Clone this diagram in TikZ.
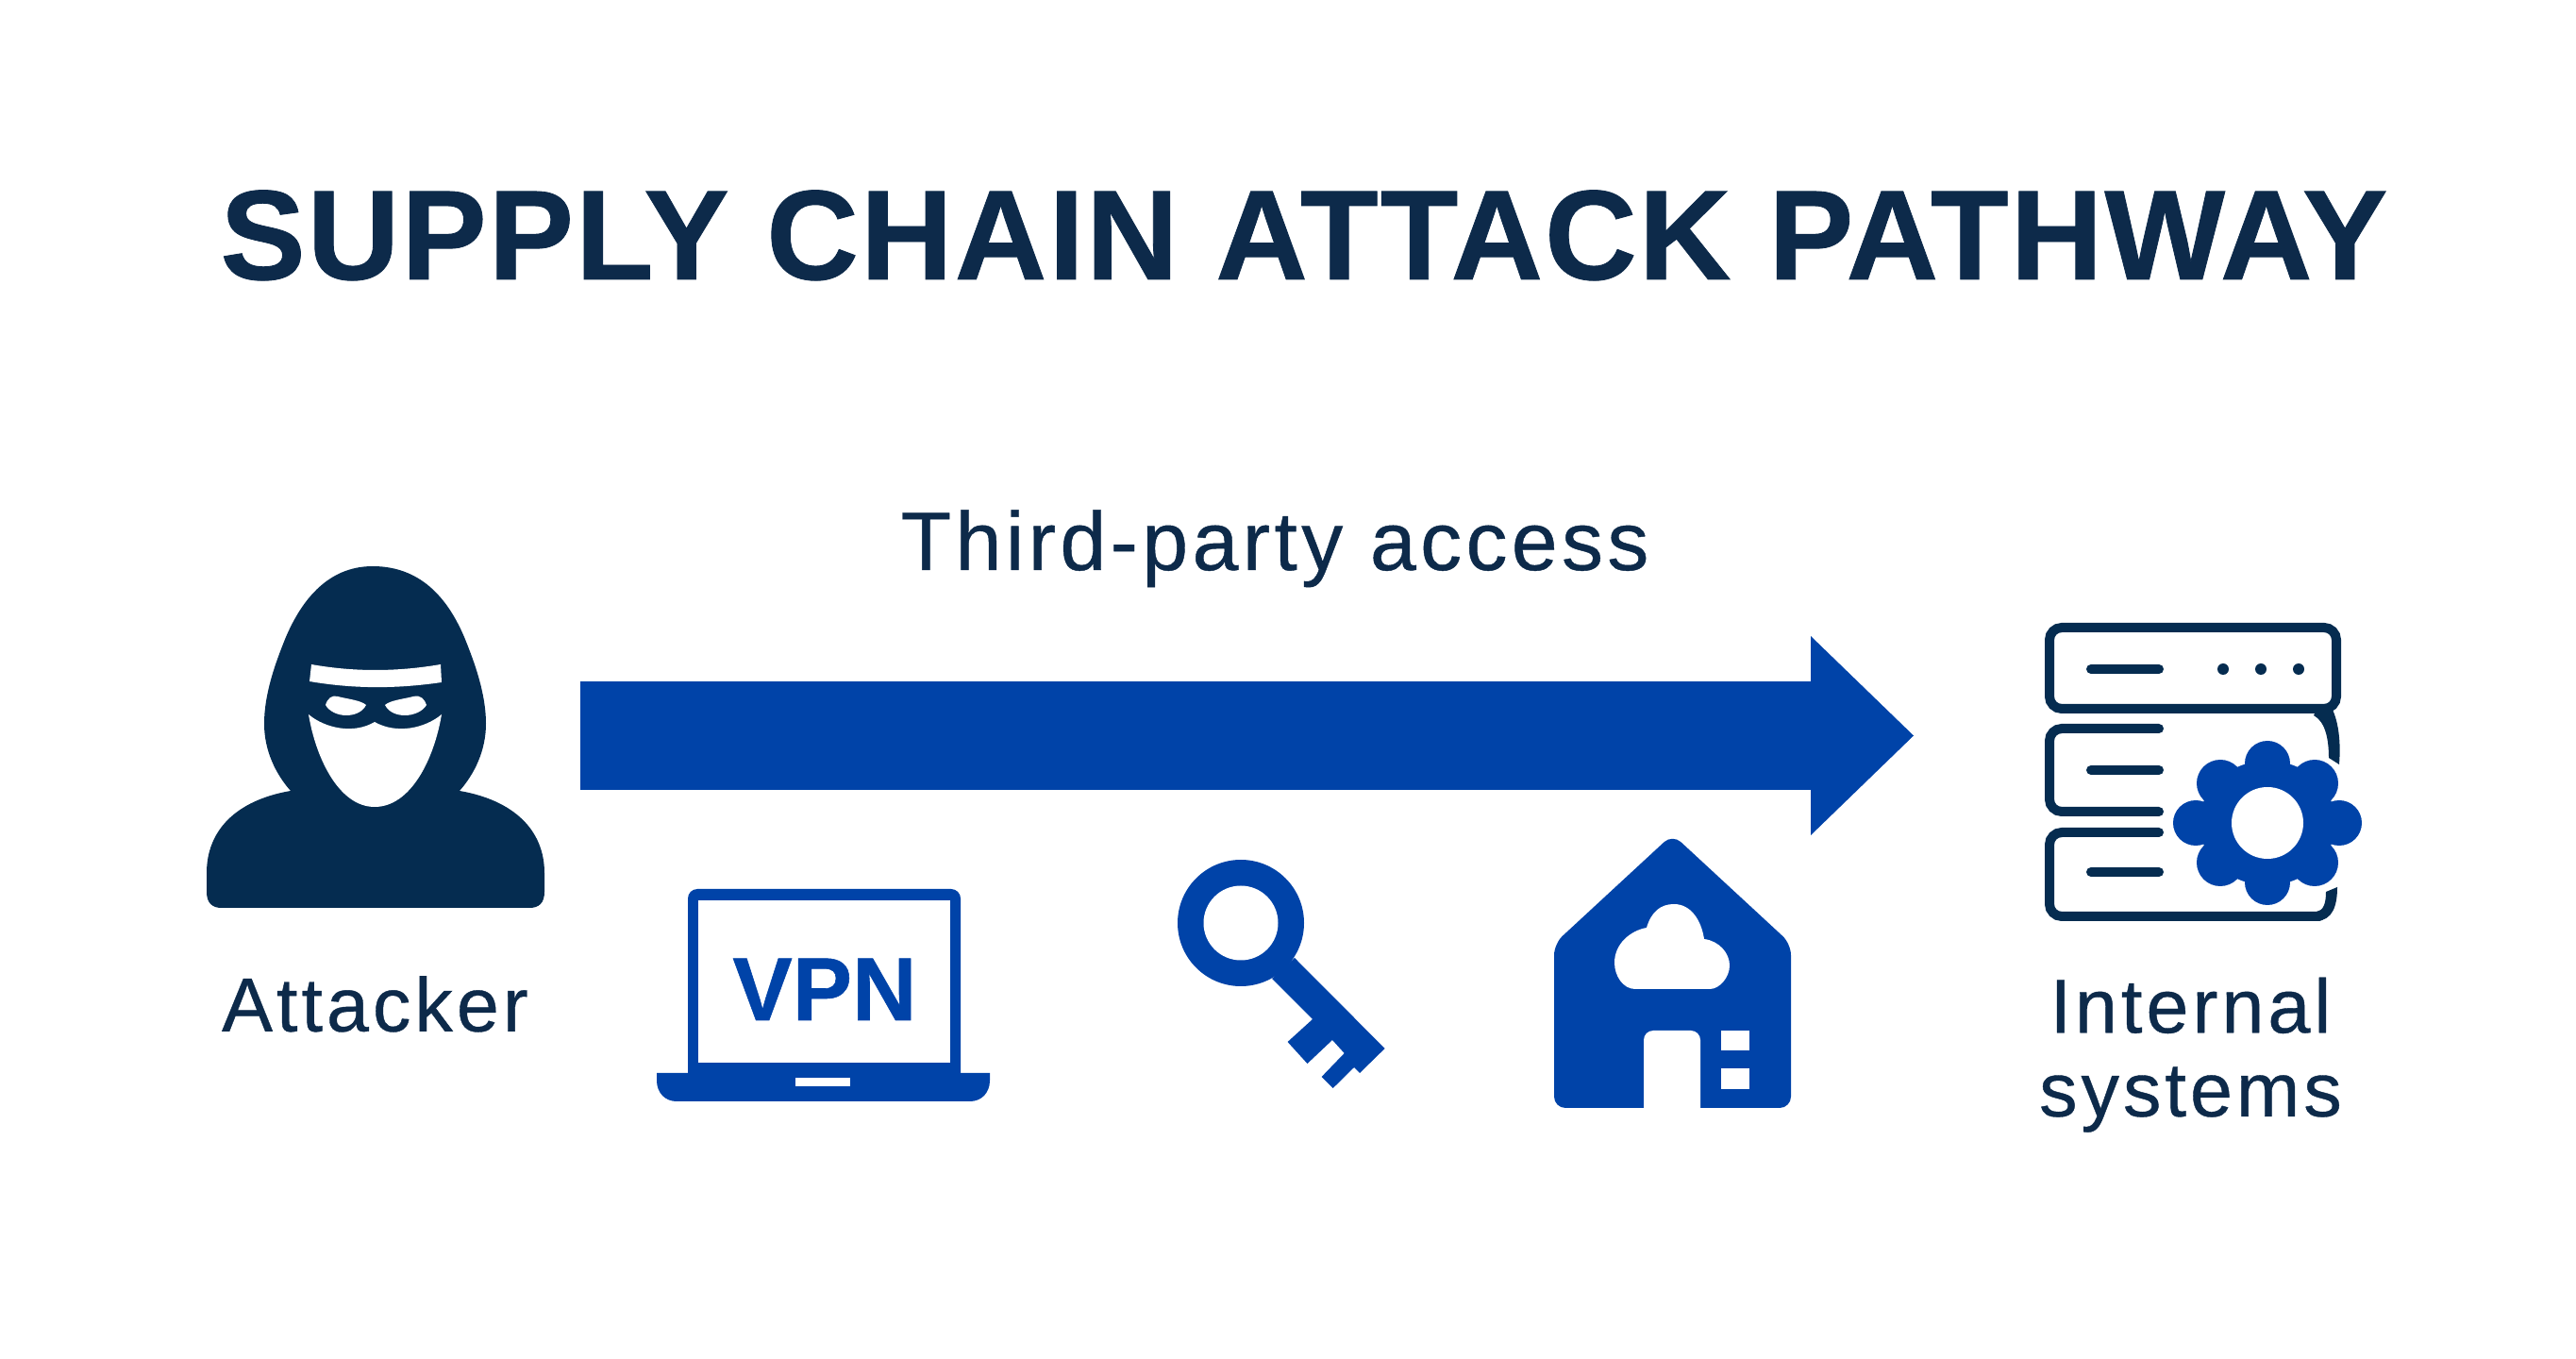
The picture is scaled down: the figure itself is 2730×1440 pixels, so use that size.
\documentclass[tikz,border=0pt]{standalone}
\usepackage{fontspec}
\usetikzlibrary{arrows.meta,positioning}
\setmainfont{Liberation Sans}[BoldFeatures={FakeBold=0.6}]
\definecolor{SCNavy}{HTML}{052C50}
\definecolor{SCInk}{HTML}{0D2A4A}
\definecolor{SCBlue}{HTML}{0043A8}
\newfontfamily\titlefont{Liberation Sans}[LetterSpace=1.5,BoldFeatures={FakeBold=0.6}]
\newfontfamily\labelfont{Liberation Sans}[LetterSpace=5,FakeBold=0.5]
\begin{document}
\begin{tikzpicture}[
  x=0.1mm,y=-0.1mm,
  node distance=5mm,
  iconbox/.style={inner sep=0pt,outer sep=0pt},
  toptext/.style={text=SCInk,font=\titlefont\bfseries\fontsize{38.5}{40}\selectfont,inner sep=0pt},
  lbl/.style={text=SCInk,font=\labelfont\fontsize{23}{25.2}\selectfont,align=center,inner sep=0pt},
  bigarr/.style={draw=SCBlue,line width=11.5mm,-{Triangle[length=10.9mm,width=21.1mm,line width=0pt,fill=SCBlue]},shorten <=3.7mm,shorten >=13.9mm},
  navy/.style={fill=SCNavy},
  blue/.style={fill=SCBlue},
  hole/.style={fill=white},
  rack/.style={draw=SCNavy,line width=1mm,line cap=round,rounded corners=1.3mm},
  slot/.style={draw=SCNavy,line width=1mm,line cap=round}
]
\useasboundingbox (0,0) rectangle (2730,1440);
\node[toptext,anchor=base] (title) at (1382,296) {SUPPLY CHAIN ATTACK PATHWAY};
\node[lbl,anchor=base,font=\labelfont\fontsize{25}{25}\selectfont] (access) at (1351,604) {Third-party access};
\node[iconbox,minimum width=36mm,minimum height=36.4mm] (attacker) at (397.5,779.5) {};
\node[iconbox,minimum width=34.3mm,minimum height=32mm] (systems) at (2338.5,820) {};
\node[lbl,below=7.2mm of attacker] (attackertext) {Attacker};
\node[lbl,below=5.5mm of systems,xshift=-1.7mm] (systemstext) {Internal\\systems};
\draw[bigarr] (attacker.east) -- (attacker.east -| systems.west);
% attacker
\fill[navy] (395,600) .. controls (345,600) and (318,640) .. (303,675) .. controls (292,702) and (280,735) .. (280,767)
  .. controls (280,795) and (292,820) .. (308,838) .. controls (250,848) and (219,880) .. (219,925) -- (219,945)
  .. controls (219,957) and (225,962) .. (235,962) -- (561,962) .. controls (571,962) and (577,957) .. (577,945) -- (577,925)
  .. controls (577,880) and (545,848) .. (487,838) .. controls (503,820) and (515,795) .. (515,767)
  .. controls (515,735) and (503,702) .. (492,675) .. controls (477,640) and (450,600) .. (395,600) -- cycle;
\fill[hole] (327,757) .. controls (335,805) and (360,855) .. (397,855) .. controls (435,855) and (460,805) .. (468,757)
  .. controls (450,772) and (420,778) .. (397,765) .. controls (375,778) and (345,772) .. (327,757) -- cycle;
\fill[hole] (330,704) .. controls (375,712) and (420,712) .. (467,704) -- (468,723) .. controls (420,730) and (375,730) .. (328,722) -- cycle;
\fill[hole] (345,747) .. controls (347,740) and (352,736) .. (358,738) .. controls (370,741) and (382,742) .. (388,747)
  .. controls (384,755) and (375,758) .. (367,758) .. controls (358,758) and (349,754) .. (345,747) -- cycle;
\fill[hole] (408,747) .. controls (414,742) and (426,741) .. (438,738) .. controls (446,736) and (450,741) .. (452,747)
  .. controls (448,754) and (438,758) .. (429,758) .. controls (421,758) and (412,755) .. (408,747) -- cycle;
% laptop
\node[iconbox,minimum width=35.3mm,minimum height=22.5mm] (laptop) at (872.5,1054.5) {};
\fill[blue,rounded corners=1mm] (729,1150) -- (729,942) -- (1018,942) -- (1018,1150) -- cycle;
\fill[hole] (740,954) rectangle (1007,1126);
\fill[blue] (696,1137) -- (1049,1137) -- (1049,1145) .. controls (1049,1158) and (1040,1167) .. (1028,1167) -- (717,1167)
  .. controls (705,1167) and (696,1158) .. (696,1145) -- cycle;
\fill[hole] (843,1142) rectangle (901,1151);
\node[text=SCBlue,font=\bfseries\fontsize{27}{27}\selectfont,anchor=base,inner sep=0pt] (vpn) at (874,1081) {VPN};
% key
\node[iconbox,minimum width=22mm,minimum height=26.6mm] (keyicon) at (1360,1043) {};
\fill[blue] (1372,1015) -- (1467.6,1111) -- (1441,1137) -- (1435,1131) -- (1412.7,1153) -- (1400.6,1141)
  -- (1424.7,1116) -- (1412,1102) -- (1385.5,1127) -- (1364.6,1104) -- (1391,1080) -- (1348,1037) -- cycle;
\fill[blue] (1315,978) circle (6.7mm);
\fill[hole] (1315,978) circle (3.95mm);
% house
\node[iconbox,minimum width=25.1mm,minimum height=28.7mm] (houseicon) at (1772.5,1030.5) {};
\fill[blue,rounded corners=1.2mm] (1772.5,884) -- (1898,1000) -- (1898,1174) -- (1647,1174) -- (1647,1000) -- cycle;
\fill[hole] (1742,1175) [rounded corners=1mm] -- (1742,1092) -- (1802,1092) [sharp corners] -- (1802,1175) -- cycle;
\fill[hole] (1824,1092) rectangle (1854,1113);
\fill[hole] (1824,1132) rectangle (1854,1154);
\fill[hole] (1733,1048) .. controls (1720,1048) and (1711,1034) .. (1711,1020) .. controls (1711,1000) and (1728,986) .. (1745,983)
  .. controls (1750,966) and (1760,958) .. (1774,958) .. controls (1792,958) and (1803,975) .. (1806,995)
  .. controls (1822,997) and (1833,1010) .. (1833,1023) .. controls (1833,1036) and (1822,1048) .. (1812,1048) -- cycle;
% internal systems
\draw[rack] (2172,665) rectangle (2476,751);
\draw[rack] (2288,772) -- (2172,772) -- (2172,860) -- (2288,860);
\draw[rack] (2288,882) -- (2172,882) -- (2172,971) -- (2458,971);
\draw[slot] (2216,709) -- (2288,709);
\draw[slot] (2216,816) -- (2288,816);
\draw[slot] (2216,924) -- (2288,924);
\foreach \x in {2356,2396,2436} \fill[navy] (\x,709) circle (0.6mm);
\fill[navy] (2455,752) -- (2472,752) .. controls (2478,765) and (2481,785) .. (2479,810) -- (2468,803)
  .. controls (2468,785) and (2465,765) .. (2452,758) -- cycle;
\fill[navy] (2477,940) .. controls (2477,960) and (2472,975) .. (2455,976) -- (2455,966)
  .. controls (2462,965) and (2465,958) .. (2465,945) -- cycle;
\fill[blue] (2403,872) ellipse (7.2mm and 6.6mm);
\foreach \dx/\dy/\r in {0/-63/2.4,0/63/2.4,76/0/2.4,-76/0/2.4,50/-42/2.5,-50/-42/2.5,50/42/2.5,-50/42/2.5}
  \fill[blue] (2403+\dx,872+\dy) circle (\r mm);
\fill[hole] (2403,872) circle (3.8mm);
\end{tikzpicture}
\end{document}
